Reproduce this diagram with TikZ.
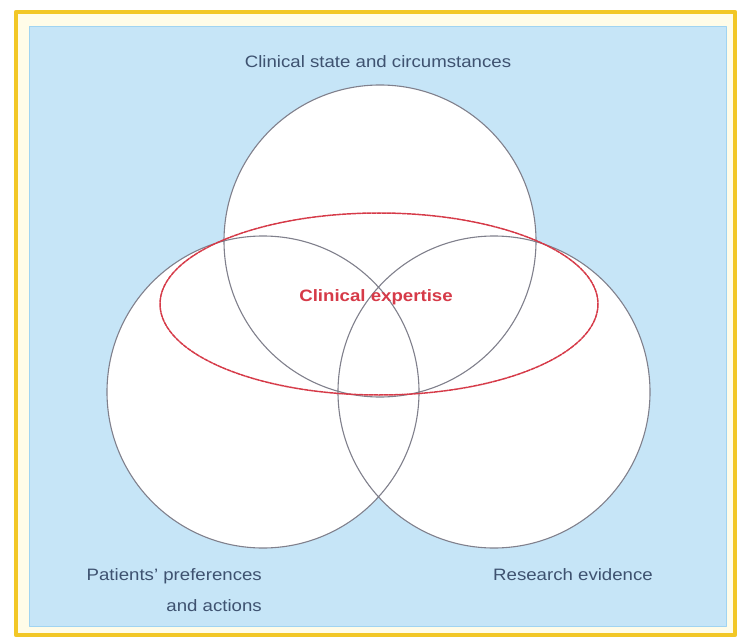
\documentclass[tikz,border=0pt]{standalone}
\usepackage{fontspec}
\setmainfont{Liberation Sans}[FakeStretch=1.13]
\definecolor{panel}{RGB}{198,229,247}
\definecolor{paneledge}{RGB}{160,212,242}
\definecolor{frame}{RGB}{242,199,38}
\definecolor{cream}{RGB}{255,252,232}
\definecolor{ring}{RGB}{128,128,140}
\definecolor{labeltext}{RGB}{62,82,112}
\definecolor{expert}{RGB}{214,58,72}

\begin{document}
\begin{tikzpicture}[x=1pt,y=-1pt, line join=round, line cap=round]
        \def\r{156}
        \tikzset{lbl/.style={text=labeltext, font=\fontsize{16.5}{31}\selectfont, inner sep=0pt}}
        \useasboundingbox (0,0) rectangle (739,639);
        % frame and panel
        \draw[frame, line width=4.5pt, fill=cream] (16,12) rectangle (735,635);
        \draw[paneledge, fill=panel, line width=1pt] (29,27) rectangle (726,626);
        % three circles
        \fill[white] (380,241) circle (\r) (263,392) circle (\r) (494,392) circle (\r);
        \draw[ring, line width=1.1pt] (380,241) circle (\r) (263,392) circle (\r) (494,392) circle (\r);
        % clinical expertise
        \draw[expert, line width=1.5pt, dash pattern=on 4pt off 1pt] (379,304) ellipse (219 and 91);
        \node[lbl] (state) at (378,62) {Clinical state and circumstances};
        \node[lbl, text=expert, font=\fontsize{16.5}{20}\bfseries\selectfont] (expertise) at (376,297) {Clinical expertise};
        \node[lbl, align=right, anchor=east] (patients) at (262,590) {Patients' preferences\\and actions};
        \node[lbl] (evidence) at (573,575) {Research evidence};
    \end{tikzpicture}
\end{document}
